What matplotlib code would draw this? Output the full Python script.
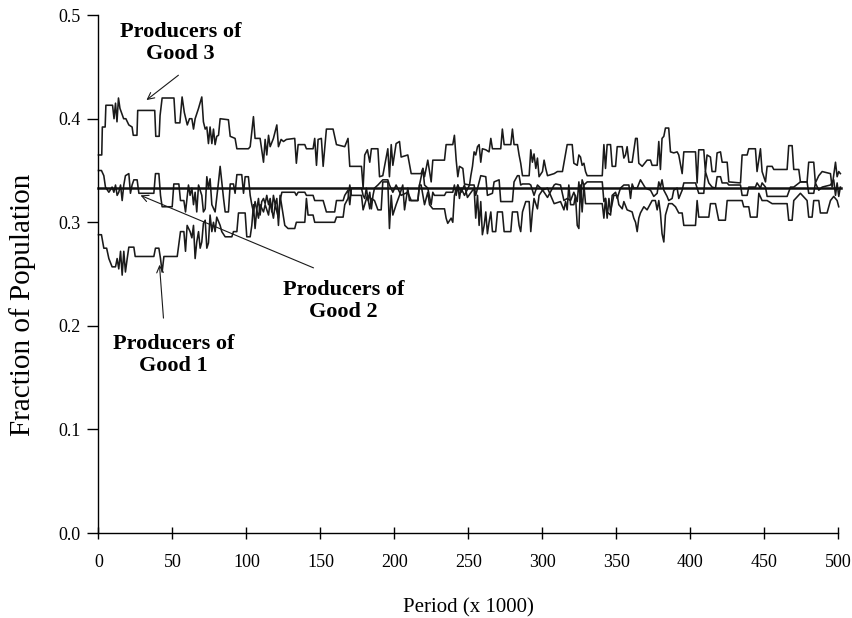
import matplotlib
matplotlib.use("Agg")
import matplotlib.pyplot as plt
import numpy as np

plt.rcParams['font.family'] = ['Liberation Serif', 'DejaVu Serif']

# ---------------- data (periods in thousands, fraction of population) ----------------
g3_x = ([0, 2.2, 2.6, 4.5, 5.0, 9.5, 10.5, 11.5, 12.5, 13.5, 14.5, 16, 17, 18.5, 20.5, 22.7, 23.5, 26, 26.5, 38, 38.7, 41, 41.6, 43, 51, 52, 55, 56.5, 58, 60, 61.5]
        + [63.1, 64.2, 65.3, 67.6, 69.8, 70.9, 72.1, 73.2, 74.3, 75.4, 76.6, 77.7, 78.8, 79.9, 81.1, 82.2, 87.8, 89, 92.3, 93.5, 101.3, 102.5, 104.7, 105.8, 109.2, 111.5, 112.6, 113.7, 114.9, 116, 118.2, 120.5, 121.6, 123.4]
        + [125, 127, 132.6, 133.7, 134.9, 139.4, 140.5, 145, 146.1, 147.3, 148.4, 150.6, 151.8, 154, 158.5, 160.8, 166.4, 168.6, 169.8, 177.7, 178.8, 179.9, 181.7, 183.3, 184.4]
        + [186.5, 188.8, 189.9, 192.1, 195.5, 196.6, 197.8, 198.9, 201.1, 203.4, 204.5, 209, 211.3, 218, 219.2, 220.3, 222.5, 224.8, 225.9, 233.8, 234.9, 239.4, 240.5, 241.7, 242.8, 243.9, 246.2, 247.3, 250.7]
        + [251.6, 252.7, 253.8, 254.9, 256.1, 257.2, 258.3, 259.4, 261.7, 263.9, 265.1, 266.2, 271.8, 272.9, 274.1, 278.6, 279.7, 280.8, 283.1, 284.2, 285.3, 286.5, 291, 292.1, 293.2, 294.3, 295.5, 296.6, 297.7, 300, 301.1, 302.2, 303.4, 307.9, 310.1, 313.5]
        + [315.6, 316.7, 320.1, 321.2, 323.5, 324.6, 325.7, 326.8, 328, 329.1, 330.2, 340.4, 341.5, 342.6, 343.7, 346, 347.1, 349.4, 350.5, 353.9, 355, 356.1, 357.2, 358.4, 360.6, 362.9, 364, 365.1, 367.4]
        + [370.7, 373, 374.1, 377.5, 378.6, 379.7, 380.8, 382, 383.1, 385.3, 386.5, 388.7, 391, 392.1, 394.4, 395.5, 403.4, 404.5, 405.6, 409, 410.1, 411.2, 413.5, 414.6, 416.9, 418, 420.3, 421.4, 424.8, 425.9, 433.8, 434.9, 438.3, 439.4, 443.9, 445, 447.3, 448.4, 450.7, 451.8, 455.2, 456.3, 465.3, 466.4, 468.7, 469.8, 473.2, 474.3, 478.8, 479.9, 483.3, 484.4, 486.7, 489, 494.6, 495.7, 498, 499.1, 500.2, 501.3])
g3_y = ([0.365, 0.365, 0.392, 0.392, 0.413, 0.413, 0.400, 0.415, 0.397, 0.420, 0.410, 0.404, 0.400, 0.400, 0.394, 0.392, 0.384, 0.384, 0.408, 0.408, 0.383, 0.383, 0.403, 0.420, 0.420, 0.396, 0.396, 0.421, 0.406, 0.394, 0.400]
        + [0.400, 0.390, 0.400, 0.410, 0.421, 0.397, 0.390, 0.392, 0.376, 0.392, 0.376, 0.390, 0.375, 0.383, 0.384, 0.400, 0.399, 0.383, 0.381, 0.371, 0.371, 0.373, 0.402, 0.381, 0.381, 0.358, 0.380, 0.365, 0.384, 0.373, 0.381, 0.394, 0.373, 0.380]
        + [0.378, 0.380, 0.381, 0.357, 0.375, 0.375, 0.371, 0.371, 0.381, 0.355, 0.380, 0.381, 0.354, 0.390, 0.390, 0.375, 0.373, 0.381, 0.354, 0.354, 0.333, 0.365, 0.370, 0.358, 0.371]
        + [0.371, 0.371, 0.344, 0.345, 0.371, 0.344, 0.375, 0.355, 0.376, 0.378, 0.363, 0.365, 0.347, 0.347, 0.352, 0.344, 0.360, 0.339, 0.360, 0.360, 0.375, 0.375, 0.384, 0.360, 0.344, 0.354, 0.352, 0.337, 0.336]
        + [0.345, 0.354, 0.368, 0.365, 0.373, 0.375, 0.358, 0.371, 0.370, 0.368, 0.381, 0.371, 0.371, 0.390, 0.375, 0.375, 0.390, 0.375, 0.375, 0.365, 0.357, 0.345, 0.345, 0.370, 0.358, 0.366, 0.352, 0.362, 0.344, 0.349, 0.360, 0.352, 0.345, 0.347, 0.349, 0.349]
        + [0.366, 0.375, 0.375, 0.357, 0.355, 0.365, 0.363, 0.355, 0.357, 0.349, 0.345, 0.345, 0.375, 0.352, 0.375, 0.375, 0.354, 0.354, 0.373, 0.373, 0.362, 0.365, 0.373, 0.358, 0.358, 0.381, 0.381, 0.357, 0.354]
        + [0.360, 0.360, 0.355, 0.355, 0.378, 0.351, 0.381, 0.383, 0.391, 0.391, 0.368, 0.367, 0.368, 0.365, 0.347, 0.368, 0.368, 0.338, 0.370, 0.370, 0.349, 0.365, 0.363, 0.349, 0.349, 0.367, 0.368, 0.358, 0.358, 0.339, 0.338, 0.365, 0.365, 0.371, 0.371, 0.349, 0.371, 0.349, 0.339, 0.354, 0.354, 0.351, 0.351, 0.374, 0.374, 0.351, 0.351, 0.339, 0.339, 0.358, 0.358, 0.338, 0.345, 0.349, 0.347, 0.334, 0.358, 0.344, 0.349, 0.347])

g1_x = ([0, 2, 3.6, 5.5, 7, 9.2, 11.5, 12.6, 13.7, 14.9, 16, 17.1, 18.2, 19.4, 20.5, 23.9, 24.8, 26.1, 37.4, 38.5, 40.8, 41.9, 43, 44.2, 53.2, 55.4, 57.7, 58.8, 59.9]
        + [61.9, 63.1, 64.2, 65.3, 66.4, 67.6, 68.7, 69.8, 70.9, 72.1, 73.2, 74.3, 75.4, 76.6, 77.7, 78.8, 79.9, 82.2, 83.3, 85.6, 90.1, 91.2, 93.5, 94.6, 99.1, 100.2, 102.5, 103.6, 104.7, 105.8, 107, 108.1, 109.2, 110.3, 111.5, 112.6, 113.7, 114.9, 116, 117.1, 118.2, 119.4, 120.5, 121.6, 122.7]
        + [125.9, 128.1, 132.6, 133.7, 139.4, 140.5, 141.6, 145, 146.1, 151.8, 154, 159.6, 160.8, 165.3, 166.4, 168.6, 169.8, 170.9, 177.7, 178.8, 181.7, 183.3, 184.4]
        + [186.5, 188.8, 191, 192.1, 195.5, 196.6, 197.8, 198.9, 201.1, 203.4, 205.6, 206.8, 209, 210.1, 215.8, 216.9, 218, 220.3, 222.5, 223.7, 225.9, 233.8, 234.9, 236, 238.3, 239.4, 240.5, 242.8, 245, 247.3]
        + [249.3, 253.8, 254.9, 256.1, 257.2, 258.3, 259.4, 260.6, 261.7, 262.8, 263.9, 265.1, 266.2, 268.4, 269.6, 272.9, 274.1, 278.6, 279.7, 283.1, 284.2, 285.3, 286.5, 288.7, 291, 292.1, 293.2, 294.3, 296.6, 297.7, 300, 303.4, 307.9]
        + [312.2, 314.5, 315.6, 316.7, 317.8, 319, 321.2, 322.3, 323.5, 324.6, 325.7, 326.8, 328, 329.1, 340.4, 341.5, 342.6, 343.7, 344.9, 346, 348.2, 350.5, 351.6, 353.9, 355, 357.2, 360.6, 361.7, 362.9, 364, 365.1]
        + [366.2, 368.5, 370.7, 374.1, 376.3, 377.5, 378.6, 379.7, 380.8, 382, 383.1, 385.3, 387.6, 389.9, 392.1, 394.4, 395.5, 403.4, 404.5, 405.6, 412.4, 413.5, 416.9, 419.1, 423.6, 424.8, 434.9, 436, 439.4, 440.5, 445, 446.2, 448.4, 451.8, 455.2, 465.3, 466.4, 468.7, 469.8, 474.3, 478.8, 479.9, 482.2, 483.3, 486.7, 487.8, 492.3, 494.6, 496.8, 499.1, 500.2])
g1_y = ([0.288, 0.288, 0.275, 0.275, 0.265, 0.257, 0.257, 0.265, 0.255, 0.272, 0.249, 0.272, 0.252, 0.265, 0.276, 0.276, 0.267, 0.267, 0.267, 0.275, 0.275, 0.265, 0.252, 0.267, 0.267, 0.291, 0.291, 0.272, 0.297]
        + [0.291, 0.285, 0.297, 0.265, 0.281, 0.291, 0.275, 0.281, 0.299, 0.302, 0.275, 0.280, 0.307, 0.291, 0.300, 0.291, 0.305, 0.297, 0.291, 0.286, 0.286, 0.291, 0.291, 0.309, 0.309, 0.286, 0.286, 0.297, 0.317, 0.294, 0.313, 0.323, 0.307, 0.320, 0.323, 0.318, 0.326, 0.317, 0.323, 0.310, 0.326, 0.317, 0.323, 0.297, 0.326]
        + [0.297, 0.294, 0.294, 0.300, 0.300, 0.323, 0.307, 0.307, 0.300, 0.300, 0.300, 0.300, 0.305, 0.305, 0.317, 0.323, 0.336, 0.326, 0.326, 0.312, 0.326, 0.313, 0.323]
        + [0.321, 0.312, 0.312, 0.339, 0.339, 0.294, 0.326, 0.307, 0.317, 0.326, 0.336, 0.312, 0.333, 0.321, 0.321, 0.336, 0.336, 0.317, 0.329, 0.317, 0.313, 0.313, 0.304, 0.299, 0.304, 0.300, 0.326, 0.336, 0.329, 0.336]
        + [0.324, 0.333, 0.304, 0.326, 0.297, 0.320, 0.288, 0.297, 0.310, 0.289, 0.300, 0.310, 0.291, 0.291, 0.310, 0.310, 0.291, 0.291, 0.310, 0.310, 0.297, 0.291, 0.310, 0.320, 0.320, 0.291, 0.310, 0.323, 0.313, 0.326, 0.331, 0.333, 0.318]
        + [0.320, 0.312, 0.320, 0.312, 0.336, 0.317, 0.317, 0.326, 0.297, 0.294, 0.336, 0.310, 0.336, 0.318, 0.318, 0.304, 0.323, 0.304, 0.323, 0.310, 0.326, 0.326, 0.317, 0.313, 0.320, 0.312, 0.310, 0.304, 0.300, 0.291, 0.304]
        + [0.309, 0.315, 0.312, 0.321, 0.321, 0.312, 0.321, 0.309, 0.289, 0.281, 0.307, 0.318, 0.318, 0.315, 0.309, 0.309, 0.297, 0.297, 0.321, 0.305, 0.305, 0.318, 0.318, 0.302, 0.302, 0.321, 0.321, 0.315, 0.315, 0.305, 0.305, 0.328, 0.321, 0.321, 0.318, 0.318, 0.302, 0.302, 0.321, 0.328, 0.321, 0.305, 0.305, 0.321, 0.321, 0.309, 0.309, 0.321, 0.325, 0.321, 0.315])

g2_x = ([0, 2, 3.6, 4.7, 7, 9.2, 10.4, 11.5, 12.6, 13.7, 14.9, 16, 17.1, 18.2, 20.5, 21.6, 22.7, 23.9, 26.1, 27.3, 37.4, 38.5, 40.8, 41.9, 43, 49.8, 50.9, 54.3, 55.4, 57.7, 58.8]
        + [60.8, 61.9, 63.1, 64.2, 65.3, 66.4, 67.6, 69.8, 70.9, 72.1, 73.2, 74.3, 75.4, 76.6, 78.8, 81.1, 82.2, 83.3, 84.5, 85.6, 87.8, 89, 91.2, 92.3, 93.5, 96.8, 98, 99.1, 101.3, 102.5, 103.6, 104.7, 105.8, 108.1, 109.2, 111.5, 112.6, 114.9, 116, 118.2, 119.4, 121.6, 122.7, 123.9]
        + [125.9, 128.1, 132.6, 133.7, 134.9, 139.4, 140.5, 141.6, 145, 146.1, 151.8, 154, 159.6, 160.8, 165.3, 166.4, 168.6, 169.8, 170.9, 177.7, 178.8, 179.9, 181, 182.2, 183.3, 184.4, 185.5]
        + [186.5, 188.8, 192.1, 195.5, 196.6, 198.9, 201.1, 204.5, 209, 211.3, 215.8, 216.9, 219.2, 220.3, 222.5, 224.8, 225.9, 227, 233.8, 234.9, 239.4, 240.5, 241.7, 242.8, 243.9, 245, 247.3, 250.7]
        + [253.8, 254.9, 258.3, 261.7, 262.8, 266.2, 267.3, 270.7, 271.8, 279.7, 280.8, 283.1, 284.2, 285.3, 286.5, 291, 292.1, 294.3, 296.6, 298.8, 301.1, 303.4, 307.9, 309]
        + [312.2, 314.5, 316.7, 319, 321.2, 323.5, 324.6, 325.7, 326.8, 328, 330.2, 340.4, 341.5, 342.6, 343.7, 346, 347.1, 349.4, 350.5, 352.7, 355, 358.4, 359.5, 360.6, 361.7, 364]
        + [366.2, 369.6, 373, 375.2, 377.5, 378.6, 379.7, 380.8, 382, 384.2, 385.3, 387.6, 388.7, 391, 392.1, 394.4, 395.5, 403.4, 404.5, 405.6, 409, 410.1, 412.4, 414.6, 416.9, 418, 420.3, 421.4, 424.8, 425.9, 433.8, 434.9, 438.3, 439.4, 443.9, 445, 447.3, 448.4, 450.7, 451.8, 465.3, 467.6, 469.8, 474.3, 478.8, 479.9, 483.3, 484.4, 486.7, 489, 494.6, 496.8, 498, 499.1, 500.2, 501.3])
g2_y = ([0.350, 0.350, 0.345, 0.334, 0.329, 0.334, 0.329, 0.336, 0.326, 0.329, 0.336, 0.321, 0.336, 0.345, 0.347, 0.328, 0.336, 0.341, 0.341, 0.328, 0.328, 0.347, 0.347, 0.326, 0.315, 0.315, 0.337, 0.337, 0.321, 0.321, 0.310]
        + [0.336, 0.326, 0.333, 0.317, 0.329, 0.310, 0.336, 0.326, 0.310, 0.313, 0.344, 0.333, 0.342, 0.317, 0.310, 0.339, 0.354, 0.339, 0.323, 0.310, 0.310, 0.337, 0.337, 0.328, 0.346, 0.346, 0.328, 0.344, 0.344, 0.326, 0.317, 0.310, 0.320, 0.304, 0.317, 0.310, 0.317, 0.307, 0.320, 0.304, 0.317, 0.304, 0.321, 0.329]
        + [0.329, 0.329, 0.329, 0.326, 0.329, 0.329, 0.326, 0.326, 0.326, 0.321, 0.321, 0.310, 0.310, 0.321, 0.321, 0.326, 0.331, 0.317, 0.333, 0.333, 0.326, 0.323, 0.333, 0.321, 0.329, 0.313, 0.326]
        + [0.333, 0.336, 0.341, 0.341, 0.336, 0.329, 0.336, 0.326, 0.329, 0.321, 0.321, 0.336, 0.352, 0.336, 0.333, 0.317, 0.329, 0.326, 0.326, 0.329, 0.329, 0.336, 0.326, 0.336, 0.323, 0.333, 0.326, 0.336]
        + [0.336, 0.326, 0.345, 0.344, 0.326, 0.328, 0.339, 0.341, 0.320, 0.320, 0.339, 0.345, 0.345, 0.336, 0.337, 0.337, 0.336, 0.326, 0.336, 0.333, 0.329, 0.324, 0.336, 0.337]
        + [0.336, 0.321, 0.323, 0.321, 0.329, 0.320, 0.339, 0.320, 0.341, 0.336, 0.339, 0.339, 0.320, 0.323, 0.310, 0.307, 0.326, 0.329, 0.323, 0.333, 0.336, 0.336, 0.323, 0.337, 0.333, 0.333]
        + [0.341, 0.333, 0.331, 0.325, 0.328, 0.339, 0.334, 0.341, 0.331, 0.325, 0.321, 0.323, 0.331, 0.333, 0.323, 0.331, 0.338, 0.338, 0.333, 0.328, 0.328, 0.349, 0.338, 0.334, 0.333, 0.344, 0.344, 0.338, 0.338, 0.336, 0.336, 0.326, 0.326, 0.334, 0.334, 0.338, 0.333, 0.338, 0.334, 0.325, 0.325, 0.334, 0.334, 0.339, 0.339, 0.328, 0.328, 0.338, 0.331, 0.334, 0.336, 0.341, 0.326, 0.338, 0.325, 0.334])

equal_share = 1.0 / 3.0

x_ticks = [0, 50, 100, 150, 200, 250, 300, 350, 400, 450, 500]
y_ticks = [0.0, 0.1, 0.2, 0.3, 0.4, 0.5]
x_label = "Period (x 1000)"
y_label = "Fraction of Population"
labels = ["Producers of\nGood 1", "Producers of\nGood 2", "Producers of\nGood 3"]

# ---------------- figure ----------------
fig = plt.figure(figsize=(8.52, 6.18), dpi=100)
ax = fig.add_axes([0.1156, 0.1375, 0.8685, 0.838])

lw = 1.15
ax.plot(g1_x, g1_y, color='#1a1a1a', lw=lw, clip_on=False)
ax.plot(g2_x, g2_y, color='#1a1a1a', lw=lw, clip_on=False)
ax.plot(g3_x, g3_y, color='#1a1a1a', lw=lw, clip_on=False)
ax.plot([0, 501.5], [equal_share, equal_share], color='#111111', lw=1.8, clip_on=False)

ax.set_xlim(0, 500)
ax.set_ylim(0, 0.5)
ax.set_xticks(x_ticks)
ax.set_yticks(y_ticks)
ax.set_yticklabels([f"{v:.1f}" for v in y_ticks])
for s in ['top', 'right']:
    ax.spines[s].set_visible(False)
for s in ['left', 'bottom']:
    ax.spines[s].set_linewidth(1.0)
ax.tick_params(axis='x', direction='inout', length=8, width=1.0, pad=11, labelsize=13)
ax.tick_params(axis='y', direction='out', length=8, width=1.0, pad=5, labelsize=13)
ax.set_xlabel(x_label, fontsize=15, labelpad=20)
ax.set_ylabel(y_label, fontsize=21, va='center')
ax.yaxis.set_label_coords(-0.103, 0.44)

txt = dict(ha='center', va='center', fontsize=16, fontweight='bold', linespacing=1.1)
arrow = dict(arrowstyle='->', lw=0.8, color='#1a1a1a', shrinkA=0, shrinkB=0,
             mutation_scale=12)

ax.text(55.4, 0.473, labels[2], **txt)
ax.annotate('', xy=(32.4, 0.418), xytext=(54, 0.442), arrowprops=arrow)

ax.text(165.5, 0.224, labels[1], **txt)
ax.annotate('', xy=(28.4, 0.326), xytext=(145.3, 0.256), arrowprops=arrow)

ax.text(50.7, 0.172, labels[0], **txt)
ax.annotate('', xy=(41.2, 0.259), xytext=(43.9, 0.2075), arrowprops=arrow)

fig.savefig("out.png", dpi=100)
